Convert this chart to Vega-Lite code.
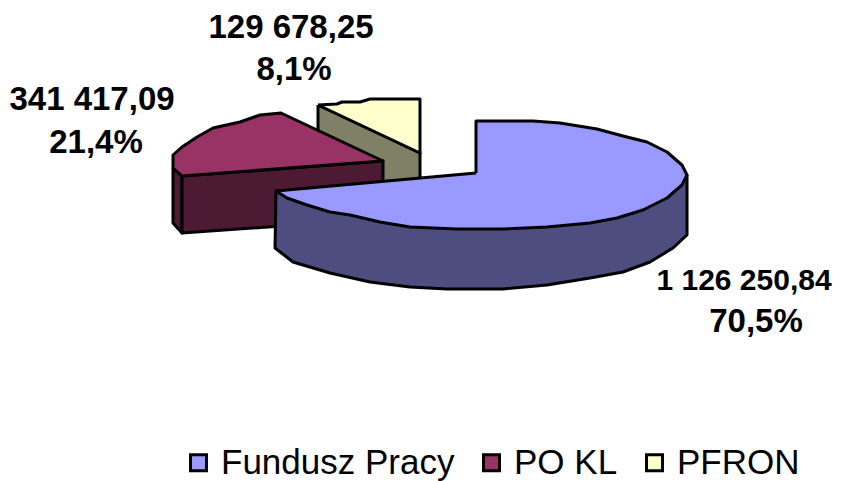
{"$schema":"https://vega.github.io/schema/vega-lite/v6.json","width":851,"height":481,"padding":0,"autosize":{"type":"fit","contains":"padding"},"background":"white","config":{"view":{"stroke":null}},
"layer":[
{"data":{"values":[
{"part":"PFRON (bok)","shape":"a","n":1,"x":318,"y":105},{"part":"PFRON (bok)","shape":"a","n":2,"x":420,"y":153},{"part":"PFRON (bok)","shape":"a","n":3,"x":420,"y":190},{"part":"PFRON (bok)","shape":"a","n":4,"x":318,"y":190},{"part":"PFRON (bok)","shape":"a","n":5,"x":318,"y":105},
{"part":"PFRON","shape":"b","n":1,"x":318,"y":105},{"part":"PFRON","shape":"b","n":2,"x":337,"y":104},{"part":"PFRON","shape":"b","n":3,"x":342,"y":102},{"part":"PFRON","shape":"b","n":4,"x":360,"y":102},{"part":"PFRON","shape":"b","n":5,"x":370,"y":99},{"part":"PFRON","shape":"b","n":6,"x":420,"y":99},{"part":"PFRON","shape":"b","n":7,"x":420,"y":153},{"part":"PFRON","shape":"b","n":8,"x":318,"y":105},
{"part":"PO KL (bok)","shape":"c","n":1,"x":173,"y":168},{"part":"PO KL (bok)","shape":"c","n":2,"x":182,"y":176},{"part":"PO KL (bok)","shape":"c","n":3,"x":182,"y":233},{"part":"PO KL (bok)","shape":"c","n":4,"x":173,"y":223},{"part":"PO KL (bok)","shape":"c","n":5,"x":173,"y":168},
{"part":"PO KL (bok)","shape":"d","n":1,"x":182,"y":176},{"part":"PO KL (bok)","shape":"d","n":2,"x":383,"y":161},{"part":"PO KL (bok)","shape":"d","n":3,"x":383,"y":219},{"part":"PO KL (bok)","shape":"d","n":4,"x":182,"y":233},{"part":"PO KL (bok)","shape":"d","n":5,"x":182,"y":176},
{"part":"PO KL","shape":"e","n":1,"x":182,"y":176},{"part":"PO KL","shape":"e","n":2,"x":383,"y":161},{"part":"PO KL","shape":"e","n":3,"x":281,"y":113},{"part":"PO KL","shape":"e","n":4,"x":260,"y":115},{"part":"PO KL","shape":"e","n":5,"x":240,"y":122},{"part":"PO KL","shape":"e","n":6,"x":213,"y":128},{"part":"PO KL","shape":"e","n":7,"x":197,"y":137},{"part":"PO KL","shape":"e","n":8,"x":182,"y":147},{"part":"PO KL","shape":"e","n":9,"x":173,"y":155},{"part":"PO KL","shape":"e","n":10,"x":173,"y":168},{"part":"PO KL","shape":"e","n":11,"x":182,"y":176},
{"part":"Fundusz Pracy (bok)","shape":"f","n":1,"x":687,"y":175},{"part":"Fundusz Pracy (bok)","shape":"f","n":2,"x":687,"y":235},{"part":"Fundusz Pracy (bok)","shape":"f","n":3,"x":673,"y":248},{"part":"Fundusz Pracy (bok)","shape":"f","n":4,"x":650,"y":262},{"part":"Fundusz Pracy (bok)","shape":"f","n":5,"x":623,"y":272},{"part":"Fundusz Pracy (bok)","shape":"f","n":6,"x":590,"y":278},{"part":"Fundusz Pracy (bok)","shape":"f","n":7,"x":547,"y":285},{"part":"Fundusz Pracy (bok)","shape":"f","n":8,"x":503,"y":289},{"part":"Fundusz Pracy (bok)","shape":"f","n":9,"x":447,"y":289},{"part":"Fundusz Pracy (bok)","shape":"f","n":10,"x":410,"y":287},{"part":"Fundusz Pracy (bok)","shape":"f","n":11,"x":370,"y":282},{"part":"Fundusz Pracy (bok)","shape":"f","n":12,"x":330,"y":273},{"part":"Fundusz Pracy (bok)","shape":"f","n":13,"x":293,"y":262},{"part":"Fundusz Pracy (bok)","shape":"f","n":14,"x":275,"y":248},{"part":"Fundusz Pracy (bok)","shape":"f","n":15,"x":276,"y":191},{"part":"Fundusz Pracy (bok)","shape":"f","n":16,"x":687,"y":175},
{"part":"Fundusz Pracy","shape":"g","n":1,"x":476,"y":173},{"part":"Fundusz Pracy","shape":"g","n":2,"x":476,"y":121},{"part":"Fundusz Pracy","shape":"g","n":3,"x":533,"y":121},{"part":"Fundusz Pracy","shape":"g","n":4,"x":560,"y":123},{"part":"Fundusz Pracy","shape":"g","n":5,"x":597,"y":129},{"part":"Fundusz Pracy","shape":"g","n":6,"x":623,"y":136},{"part":"Fundusz Pracy","shape":"g","n":7,"x":647,"y":142},{"part":"Fundusz Pracy","shape":"g","n":8,"x":667,"y":152},{"part":"Fundusz Pracy","shape":"g","n":9,"x":682,"y":165},{"part":"Fundusz Pracy","shape":"g","n":10,"x":687,"y":175},{"part":"Fundusz Pracy","shape":"g","n":11,"x":682,"y":185},{"part":"Fundusz Pracy","shape":"g","n":12,"x":667,"y":198},{"part":"Fundusz Pracy","shape":"g","n":13,"x":643,"y":210},{"part":"Fundusz Pracy","shape":"g","n":14,"x":617,"y":218},{"part":"Fundusz Pracy","shape":"g","n":15,"x":590,"y":223},{"part":"Fundusz Pracy","shape":"g","n":16,"x":547,"y":227},{"part":"Fundusz Pracy","shape":"g","n":17,"x":503,"y":229},{"part":"Fundusz Pracy","shape":"g","n":18,"x":457,"y":229},{"part":"Fundusz Pracy","shape":"g","n":19,"x":410,"y":227},{"part":"Fundusz Pracy","shape":"g","n":20,"x":380,"y":222},{"part":"Fundusz Pracy","shape":"g","n":21,"x":350,"y":215},{"part":"Fundusz Pracy","shape":"g","n":22,"x":330,"y":212},{"part":"Fundusz Pracy","shape":"g","n":23,"x":307,"y":205},{"part":"Fundusz Pracy","shape":"g","n":24,"x":287,"y":198},{"part":"Fundusz Pracy","shape":"g","n":25,"x":276,"y":191},{"part":"Fundusz Pracy","shape":"g","n":26,"x":476,"y":173}
]},
"mark":{"type":"line","stroke":"black","strokeWidth":3,"strokeJoin":"round"},
"encoding":{
"x":{"field":"x","type":"quantitative","scale":{"domain":[0,851],"nice":false,"zero":false},"axis":null},
"y":{"field":"y","type":"quantitative","scale":{"domain":[481,0],"nice":false,"zero":false},"axis":null},
"order":{"field":"n","type":"quantitative"},
"detail":{"field":"shape"},
"fill":{"field":"part","type":"nominal","sort":null,"scale":{"domain":["Fundusz Pracy","PO KL","PFRON","Fundusz Pracy (bok)","PO KL (bok)","PFRON (bok)"],"range":["#9999ff","#993366","#ffffcc","#4d4d80","#4d1a33","#808066"]},
"legend":{"values":["Fundusz Pracy","PO KL","PFRON"],"title":null,"orient":"none","legendX":181,"legendY":445,"direction":"horizontal","columns":3,"symbolType":"square","symbolSize":256,"symbolStrokeColor":"black","symbolStrokeWidth":3,"symbolOpacity":1,"labelFont":"Liberation Sans","labelFontSize":35,"labelColor":"black","labelLimit":400,"columnPadding":19,"labelOffset":5,"symbolOffset":0}}
}},
{"data":{"values":[
{"label":"129 678,25","x":291,"y":28},{"label":"8,1%","x":294,"y":70},
{"label":"341 417,09","x":92,"y":100},{"label":"21,4%","x":96,"y":143},
{"label":"70,5%","x":756,"y":322}
]},
"mark":{"type":"text","font":"Liberation Sans","fontWeight":"bold","fontSize":33,"color":"black","align":"center","baseline":"middle"},
"encoding":{"x":{"field":"x","type":"quantitative","scale":{"domain":[0,851],"nice":false,"zero":false},"axis":null},"y":{"field":"y","type":"quantitative","scale":{"domain":[481,0],"nice":false,"zero":false},"axis":null},"text":{"field":"label"}}},
{"data":{"values":[{"label":"1 126 250,84","x":744,"y":281}]},
"mark":{"type":"text","font":"Liberation Sans","fontWeight":"bold","fontSize":30,"color":"black","align":"center","baseline":"middle"},
"encoding":{"x":{"field":"x","type":"quantitative","scale":{"domain":[0,851],"nice":false,"zero":false},"axis":null},"y":{"field":"y","type":"quantitative","scale":{"domain":[481,0],"nice":false,"zero":false},"axis":null},"text":{"field":"label"}}}
]}
